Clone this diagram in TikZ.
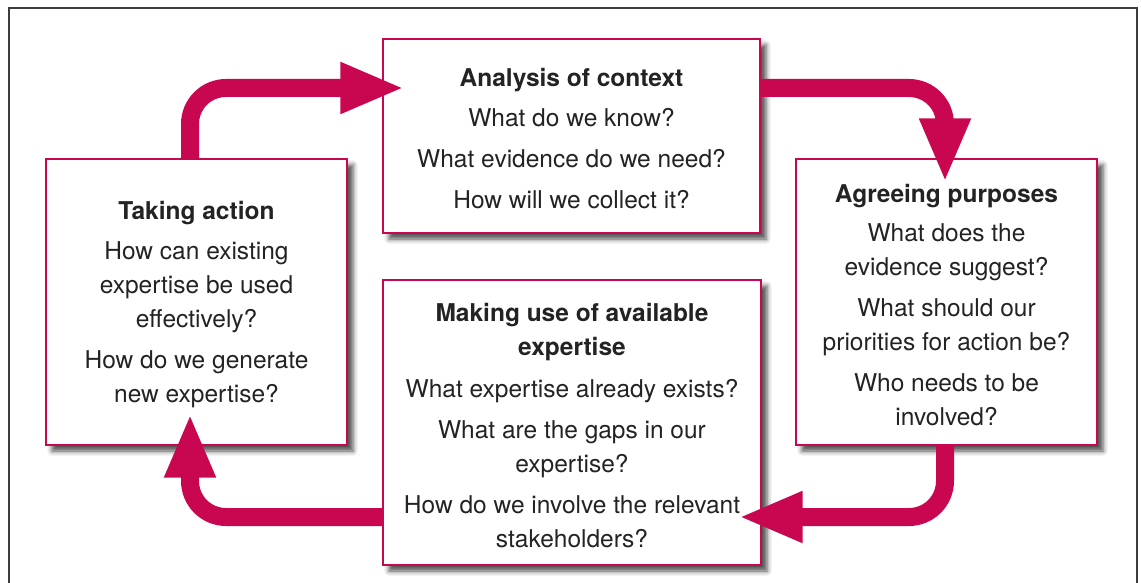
\documentclass[tikz,border=0pt]{standalone}
\usepackage{fontspec}
\setmainfont{TeX Gyre Heros}
\usetikzlibrary{arrows.meta,shadows.blur}
\definecolor{crim}{RGB}{200,7,80}
\definecolor{txt}{RGB}{35,35,35}
\definecolor{frame}{RGB}{60,60,60}
\begin{document}
\begin{tikzpicture}[x=1pt,y=-1pt,
  box/.style={draw=crim, line width=1.1pt, fill=white, inner sep=0pt,
    blur shadow={shadow xshift=6pt, shadow yshift=-6pt, shadow blur radius=5pt, shadow opacity=70}},
  words/.style={inner sep=0pt, align=center, text=txt, font=\fontsize{24.5}{34}\selectfont},
  flow/.style={draw=crim, line width=18pt, rounded corners=36pt,
    -{Triangle[width=47pt,length=64pt]}}]
\useasboundingbox (0,0) rectangle (1141,583);
\draw[frame, line width=1.4pt] (9,8) rectangle (1137,600);

\node[box, minimum width=377pt, minimum height=194pt] (analysis) at (571.5,136) {};
\node[words] (analysisT) at ([yshift=-3pt]analysis.center)
  {\textbf{Analysis of context}\\[6pt]
   What do we know?\\[7pt]
   What evidence do we need?\\[7pt]
   How will we collect it?};
\node[box, minimum width=301pt, minimum height=286pt] (taking) at (196.5,302) {};
\node[words] (takingT) at ([yshift=-3pt]taking.center)
  {\textbf{Taking action}\\[5.5pt]
   How can existing\\ expertise be used\\ effectively?\\[7.5pt]
   How do we generate\\ new expertise?};
\node[box, minimum width=301pt, minimum height=286pt] (agreeing) at (946.5,302) {};
\node[words] (agreeingT) at ([yshift=-3pt]agreeing.center)
  {\textbf{Agreeing purposes}\\[5.5pt]
   What does the\\ evidence suggest?\\[7pt]
   What should our\\ priorities for action be?\\[7pt]
   Who needs to be\\ involved?};
\node[box, minimum width=378pt, minimum height=285pt] (making) at (572,422.5) {};
\node[words] (makingT) at ([yshift=-3pt]making.center)
  {\textbf{Making use of available}\\ \textbf{expertise}\\[7.5pt]
   What expertise already exists?\\[7pt]
   What are the gaps in our\\ expertise?\\[7pt]
   How do we involve the relevant\\ stakeholders?};

\draw[flow] ([xshift=-6.5pt]taking.north) |- ([xshift=22pt,yshift=48pt]analysis.west);
\draw[flow] ([yshift=48pt]analysis.east) -| ([xshift=-1.5pt,yshift=-24pt]agreeing.north);
\draw[flow] ([xshift=-1.5pt]agreeing.south) |- ([xshift=-23pt,yshift=-94.5pt]making.east);
\draw[flow] ([yshift=-94.5pt]making.west) -| ([xshift=-6.5pt,yshift=32pt]taking.south);
\end{tikzpicture}
\end{document}
